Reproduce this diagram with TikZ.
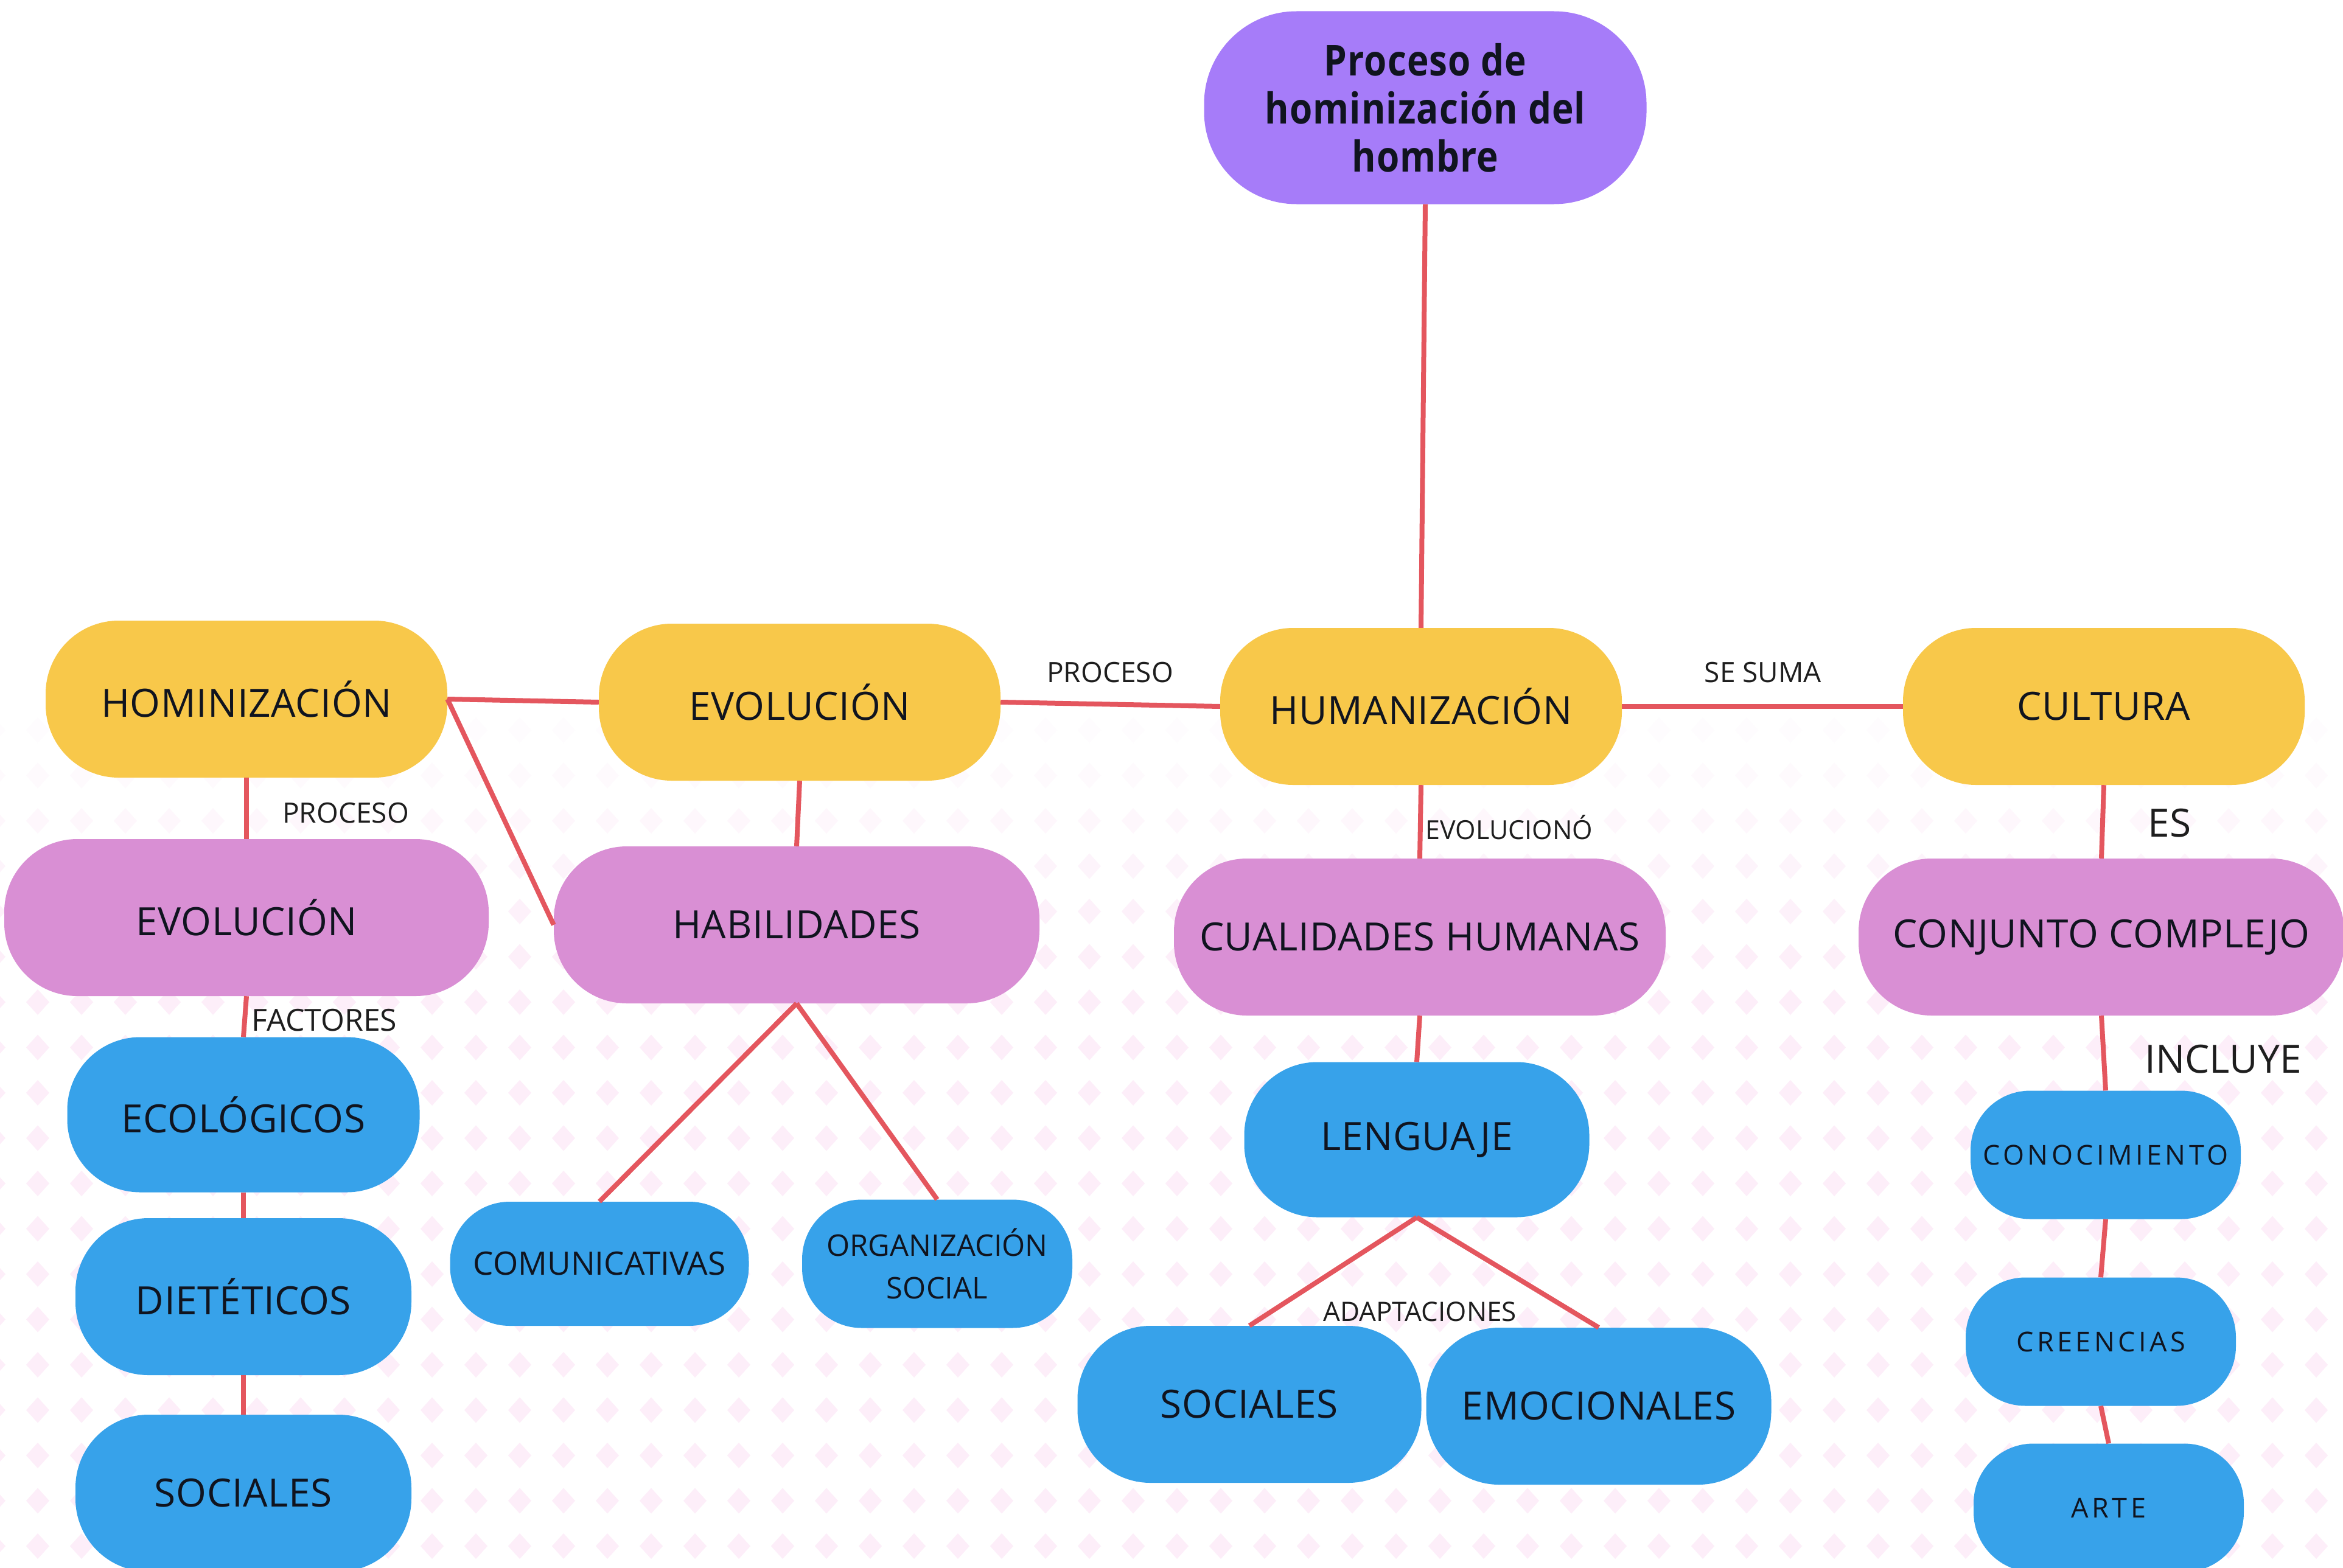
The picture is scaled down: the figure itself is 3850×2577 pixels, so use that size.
\documentclass[tikz,border=0pt]{standalone}
\usepackage{fontspec}
\setmainfont{Open Sans}
\definecolor{cyel}{HTML}{F8C84A}
\definecolor{cpink}{HTML}{D98FD4}
\definecolor{cblue}{HTML}{37A2EA}
\definecolor{cpurple}{HTML}{A67CF9}
\definecolor{cred}{HTML}{E4565E}
\definecolor{ctext}{HTML}{10141F}
\definecolor{clabel}{HTML}{1E1E1E}
\definecolor{cdiam}{HTML}{FDEEF9}
\begin{document}
\begin{tikzpicture}[x=1pt,y=-1pt,
  box/.style={inner sep=0pt, text=ctext, align=center},
  bigbox/.style={box, minimum height=258pt, rounded corners=120pt, font=\fontsize{64}{78}\selectfont\addfontfeature{LetterSpace=1}},
  ynode/.style={bigbox, fill=cyel, minimum width=660pt},
  pnode/.style={bigbox, fill=cpink},
  bnode/.style={bigbox, fill=cblue},
  bsmall/.style={box, fill=cblue, minimum width=444pt, minimum height=211pt, rounded corners=98pt, font=\fontsize{53}{64}\selectfont},
  btrack/.style={bsmall, font=\fontsize{45}{64}\selectfont\addfontfeature{LetterSpace=12}},
  titlebox/.style={box, fill=cpurple, minimum width=727pt, minimum height=317pt, rounded corners=152pt, font=\fontsize{70}{79}\selectfont\bfseries\addfontfeature{FakeStretch=0.86,LetterSpace=1.5}},
  conn/.style={draw=cred, line width=8pt},
  lbl/.style={inner sep=0pt, text=clabel, font=\fontsize{46}{55}\selectfont},
  lblbig/.style={inner sep=0pt, text=clabel, font=\fontsize{64}{76}\selectfont},
]
\useasboundingbox (0,0) rectangle (3850,2577);
\fill[white] (0,0) rectangle (3850,2577);
% faint diamond pattern
\foreach \k in {16,...,35}{
  \pgfmathsetmacro{\yy}{8+74.5*\k}
  \pgfmathsetmacro{\op}{min(1,max(0.15,(\yy-1150)/450))}
  \foreach \j in {-1,...,53}{
    \pgfmathsetmacro{\xx}{62+72*\j}
    \fill[cdiam, fill opacity=\op] (\xx-19,\yy) -- (\xx,\yy-21) -- (\xx+19,\yy) -- (\xx,\yy+21) -- cycle;
  }
}
% nodes
\node[titlebox] (top) at (2342,177) {Proceso de\\hominización del\\hombre};
\node[ynode] (hom) at (405,1149) {HOMINIZACIÓN};
\node[ynode] (evo) at (1314,1154) {EVOLUCIÓN};
\node[ynode] (hum) at (2335,1161) {HUMANIZACIÓN};
\node[ynode] (cul) at (3457,1161) {CULTURA};
\node[pnode, minimum width=796pt] (evop) at (405,1508) {EVOLUCIÓN};
\node[pnode, minimum width=798pt] (hab) at (1309,1520) {HABILIDADES};
\node[pnode, minimum width=808pt] (cua) at (2333,1540) {CUALIDADES HUMANAS};
\node[pnode, minimum width=798pt] (con) at (3453,1540) {CONJUNTO COMPLEJO};
\node[bnode, minimum width=579pt, minimum height=255pt] (eco) at (400,1832) {ECOLÓGICOS};
\node[bnode, minimum width=552pt] (die) at (400,2131) {DIETÉTICOS};
\node[bnode, minimum width=552pt] (soc) at (400,2454) {SOCIALES};
\node[bsmall, minimum width=491pt, minimum height=204pt] (com) at (985,2077) {COMUNICATIVAS};
\node[bsmall, font=\fontsize{49}{70}\selectfont] (org) at (1540,2077) {ORGANIZACIÓN\\SOCIAL};
\node[bnode, minimum width=567pt, minimum height=255pt] (len) at (2328,1873) {LENGUAJE};
\node[bnode, minimum width=565pt] (soc2) at (2053,2308) {SOCIALES};
\node[bnode, minimum width=567pt] (emo) at (2627,2311) {EMOCIONALES};
\node[btrack] (cono) at (3460,1898) {CONOCIMIENTO};
\node[btrack] (cre) at (3452,2205) {CREENCIAS};
\node[btrack] (arte) at (3465,2478) {ARTE};
% connectors
\draw[conn] (top.south) -- (hum.north);
\draw[conn] (hom.east) -- (evo.west);
\draw[conn] (hom.east) -- (hab.west);
\draw[conn] (evo.east) -- (hum.west);
\draw[conn] (hum.east) -- (cul.west);
\draw[conn] (hom.south) -- (evop.north);
\draw[conn] (evo.south) -- (hab.north);
\draw[conn] (hum.south) -- (cua.north);
\draw[conn] (cul.south) -- (con.north);
\draw[conn] (evop.south) -- (eco.north);
\draw[conn] (eco.south) -- (die.north);
\draw[conn] (die.south) -- (soc.north);
\draw[conn] (hab.south) -- (com.north);
\draw[conn] (hab.south) -- (org.north);
\draw[conn] (cua.south) -- (len.north);
\draw[conn] (len.south) -- (soc2.north);
\draw[conn] (len.south) -- (emo.north);
\draw[conn] (con.south) -- (cono.north);
\draw[conn] (cono.south) -- (cre.north);
\draw[conn] (cre.south) -- (arte.north);
% labels
\node[lbl] (l1) at (1824,1105) {PROCESO};
\node[lbl] (l2) at (2897,1105) {SE SUMA};
\node[lbl] (l3) at (568,1336) {PROCESO};
\node[lbl, font=\fontsize{43}{52}\selectfont] (l4) at (2480,1360) {EVOLUCIONÓ};
\node[lbl, font=\fontsize{50}{60}\selectfont] (l5) at (533,1677) {FACTORES};
\node[lbl, font=\fontsize{44}{53}\selectfont] (l6) at (2333,2156) {ADAPTACIONES};
\node[lblbig] (l7) at (3565,1353) {ES};
\node[lblbig] (l8) at (3653,1741) {INCLUYE};
\end{tikzpicture}
\end{document}
